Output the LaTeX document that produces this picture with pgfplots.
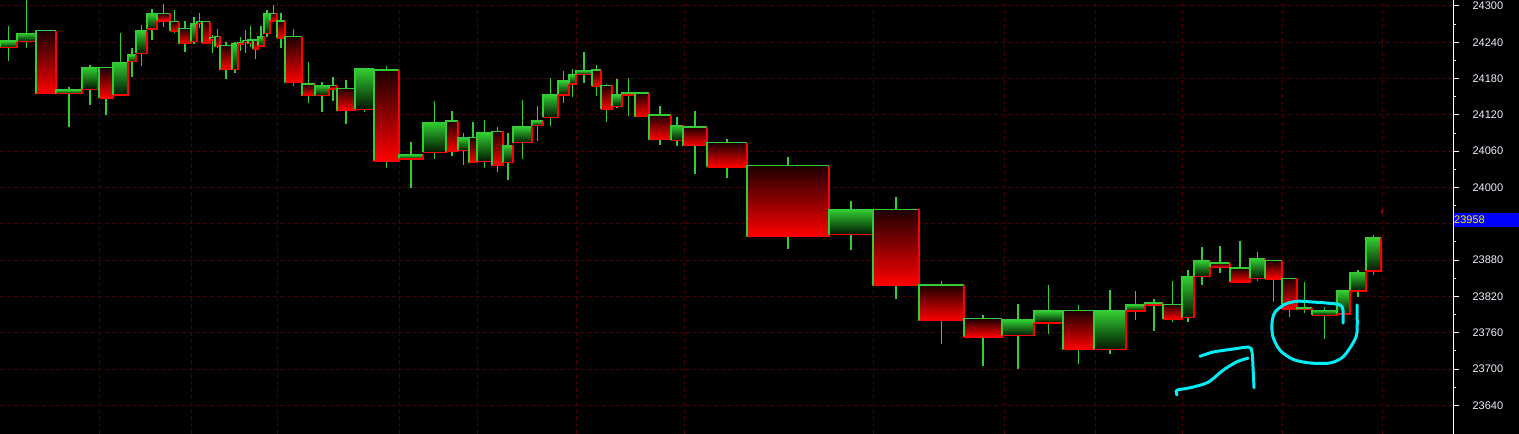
\documentclass[border=0pt]{standalone}
\usepackage{pgfplots}
\usepackage{pgfplotstable}
\pgfplotsset{compat=1.18}
\usepackage{fontspec}
\setmainfont{Liberation Sans}
\definecolor{cgreen}{RGB}{50,205,50}
\definecolor{cdkgreen}{RGB}{0,22,0}
\definecolor{cdkred}{RGB}{28,0,0}
\definecolor{cred}{RGB}{255,0,0}
\definecolor{cgrid}{RGB}{72,0,0}
\definecolor{ctick}{RGB}{238,242,255}
\definecolor{cyanline}{RGB}{0,238,248}

\pgfplotstableread{
x0 x1 o h l c
0 17 24231 24267 24209 24242
17 36 24241 24312 24231 24255
36 56 24259 24259 24155 24155
56 82 24155 24166 24100 24161
82 98 24162 24202 24136 24198
99 113 24198 24198 24120 24148
113 128 24153 24255 24153 24207
128 136 24208 24231 24183 24219
136 147 24222 24269 24201 24259
147 157 24262 24295 24244 24287
157 170 24288 24303 24265 24275
170 179 24274 24293 24255 24258
179 191 24263 24275 24224 24238
191 197 24241 24282 24237 24271
197 202 24274 24288 24264 24271
202 210 24274 24275 24239 24239
210 215 24248 24252 24222 24244
215 220 24250 24262 24231 24233
220 232 24235 24241 24179 24195
232 238 24195 24241 24190 24237
238 243 24239 24249 24226 24237
243 248 24243 24260 24222 24240
248 253 24244 24267 24232 24238
253 258 24244 24245 24212 24229
258 264 24234 24267 24232 24250
264 270 24254 24293 24249 24288
270 277 24288 24302 24275 24275
277 285 24275 24288 24231 24247
285 302 24249 24262 24168 24173
302 315 24171 24207 24140 24152
315 329 24152 24175 24124 24169
329 337 24169 24183 24143 24163
337 355 24164 24178 24105 24127
355 374 24129 24197 24125 24196
374 399 24194 24201 24033 24044
399 423 24047 24075 24000 24054
423 446 24058 24143 24047 24108
446 458 24110 24126 24052 24059
458 469 24061 24090 24037 24082
469 477 24083 24108 24041 24041
477 492 24043 24112 24033 24090
492 503 24093 24100 24026 24036
503 513 24041 24090 24012 24070
513 532 24074 24145 24047 24100
532 543 24102 24135 24077 24110
543 558 24116 24181 24102 24153
558 569 24153 24193 24140 24176
569 576 24171 24196 24150 24186
576 592 24187 24224 24173 24193
592 601 24194 24202 24152 24167
601 612 24169 24171 24109 24129
612 622 24134 24179 24131 24153
622 635 24156 24181 24118 24153
635 649 24156 24158 24117 24117
649 671 24120 24134 24071 24079
671 683 24078 24116 24069 24103
683 707 24100 24126 24023 24069
707 747 24074 24080 24016 24034
747 829 24036 24050 23899 23919
829 873 23922 23978 23897 23964
873 919 23964 23984 23815 23838
919 964 23839 23845 23742 23780
964 1002 23783 23789 23705 23753
1002 1034 23755 23807 23700 23781
1034 1063 23776 23839 23758 23796
1063 1094 23797 23806 23709 23732
1094 1126 23732 23831 23725 23796
1126 1145 23796 23829 23781 23806
1145 1163 23809 23816 23763 23806
1163 1182 23807 23845 23777 23782
1182 1194 23785 23864 23777 23852
1194 1210 23853 23902 23839 23879
1210 1230 23875 23904 23858 23868
1230 1250 23867 23912 23844 23844
1250 1265 23850 23893 23846 23882
1265 1282 23879 23879 23811 23849
1282 1297 23850 23850 23786 23799
1297 1312 23801 23844 23792 23798
1312 1337 23789 23802 23749 23797
1337 1350 23791 23829 23791 23829
1350 1366 23829 23864 23819 23860
1366 1381 23862 23921 23855 23917
}\candles

\pgfplotsset{
  upbody/.style={draw=none, top color=cgreen, bottom color=cdkgreen},
  downbody/.style={draw=none, top color=cdkred, bottom color=cred},
  wick/.style={cgreen, line width=1.1pt},
  gedge/.style={cgreen, line width=1.3pt, line join=miter},
  redge/.style={cred, line width=1.3pt, line join=miter},
}

\begin{document}
\begin{tikzpicture}
\path[fill=black, use as bounding box] (0pt,0pt) rectangle (1519pt,434pt);
\begin{axis}[
  at={(0pt,0pt)}, anchor=south west,
  scale only axis, width=1453pt, height=434pt,
  xmin=0, xmax=1453, ymin=23592.6, ymax=24309.9,
  axis y line=right, axis x line=bottom,
  axis line style={-},
  x axis line style={draw=none},
  y axis line style={draw=white, line width=1pt},
  xtick={99,191,277,399,477,576,684,873,1004,1095,1182,1282,1382},
  xticklabels={},
  major x tick style={draw=none},
  xmajorgrids, ymajorgrids,
  major grid style={cgrid, dash pattern=on 3.5pt off 3.5pt, line width=1pt},
  ytick={23640,23700,23760,23820,23880,23940,24000,24060,24120,24180,24240,24300},
  yticklabels={23640,23700,23760,23820,23880,,24000,24060,24120,24180,24240,24300},
  minor y tick num=1,
  tick align=outside,
  major tick length=6pt, minor tick length=3pt,
  y tick style={white, line width=1pt},
  yticklabel style={font=\fontsize{11}{13}\selectfont, text=ctick, anchor=west, xshift=10pt},
]
\pgfplotstablegetrowsof{\candles}
\pgfmathtruncatemacro{\lastrow}{\pgfplotsretval-1}
\pgfplotsinvokeforeach{0,...,\lastrow}{%
  \pgfplotstablegetelem{#1}{x0}\of\candles\let\xa\pgfplotsretval
  \pgfplotstablegetelem{#1}{x1}\of\candles\let\xb\pgfplotsretval
  \pgfplotstablegetelem{#1}{o}\of\candles\let\yo\pgfplotsretval
  \pgfplotstablegetelem{#1}{h}\of\candles\let\yh\pgfplotsretval
  \pgfplotstablegetelem{#1}{l}\of\candles\let\yl\pgfplotsretval
  \pgfplotstablegetelem{#1}{c}\of\candles\let\yc\pgfplotsretval
  \pgfmathsetmacro{\xm}{(\xa+\xb)/2}%
  \ifnum\yc>\yo\relax
    \def\bstyle{upbody}\let\ytop\yc\let\ybot\yo
  \else
    \def\bstyle{downbody}\let\ytop\yo\let\ybot\yc
  \fi
  \edef\cmd{%
    \noexpand\addplot[wick] coordinates {(\xm,\yl) (\xm,\yh)};
    \noexpand\addplot[\bstyle] coordinates {(\xa,\ybot) (\xb,\ybot) (\xb,\ytop) (\xa,\ytop)};
    \noexpand\addplot[gedge] coordinates {(\xa,\ybot) (\xa,\ytop) (\xb,\ytop)};
    \noexpand\addplot[redge] coordinates {(\xa,\ybot) (\xb,\ybot) (\xb,\ytop)};
  }%
  \cmd
}
\addplot[cred, line width=1pt] coordinates {(1381,23958) (1383,23963)};
% hand-drawn annotations
\addplot[cyanline, line width=3pt, smooth, line cap=round] coordinates {
 (1177,23657) (1177,23665) (1190,23669) (1208,23678) (1223,23698) (1237,23712) (1248,23718)};
\addplot[cyanline, line width=3pt, smooth, line cap=round] coordinates {
 (1200,23721) (1213,23728) (1233,23733) (1249,23736) (1252,23728) (1253,23703) (1254,23669)};
\addplot[cyanline, line width=3pt, smooth, line cap=round] coordinates {
 (1343,23776) (1343,23797) (1340,23806) (1327,23809) (1310,23811) (1297,23812) (1285,23807)
 (1275,23794) (1272,23776) (1273,23753) (1280,23731) (1293,23716) (1310,23710) (1330,23710)
 (1343,23720) (1353,23743) (1357,23761) (1357,23806)};
\end{axis}
\fill[blue] (1453.6pt,207pt) rectangle (1519pt,221pt);
\node[anchor=west, inner sep=0pt, text=yellow, font=\fontsize{11}{13}\selectfont] at (1454pt,214pt) {23958};
\end{tikzpicture}
\end{document}
